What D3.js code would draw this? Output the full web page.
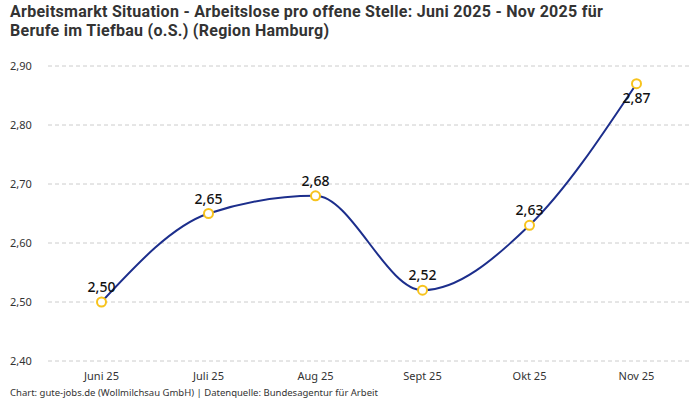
<!DOCTYPE html>
<html lang="de">
<head>
<meta charset="UTF-8">
<title>Arbeitsmarkt Situation</title>
<script src="https://cdnjs.cloudflare.com/ajax/libs/d3/7.8.5/d3.min.js"></script>
<style>
  body { margin: 0; background: #fff; }
  svg { display: block; font-family: "Noto Sans", "DejaVu Sans", sans-serif; }
</style>
</head>
<body>
<svg width="700" height="400"></svg>
<script>
    const months = ["Juni 25", "Juli 25", "Aug 25", "Sept 25", "Okt 25", "Nov 25"];
    const ratios = [2.50, 2.65, 2.68, 2.52, 2.63, 2.87];
    const yTicks = [2.40, 2.50, 2.60, 2.70, 2.80, 2.90];
    const titleLines = [
        "Arbeitsmarkt Situation - Arbeitslose pro offene Stelle: Juni 2025 - Nov 2025 für",
        "Berufe im Tiefbau (o.S.) (Region Hamburg)"
    ];
    const footer = "Chart: gute-jobs.de (Wollmilchsau GmbH) | Datenquelle: Bundesagentur für Arbeit";

    const svg = d3.select("svg");
    const fmt = v => d3.format(".2f")(v).replace(".", ",");

    const x = d3.scaleBand().domain(months).range([48, 690]);
    const y = d3.scaleLinear().domain([2.40, 2.90]).range([361, 66]);

    // title
    svg.append("g").selectAll("text")
        .data(titleLines)
        .enter().append("text")
        .attr("x", 10)
        .attr("y", (d, i) => 17 + i * 19)
        .attr("font-family", "Roboto, sans-serif")
        .attr("font-size", 16)
        .attr("font-weight", 700)
        .attr("letter-spacing", 0.28)
        .attr("fill", "#333")
        .text(d => d);

    // grid + y labels
    const grid = svg.append("g");
    grid.selectAll("line")
        .data(yTicks)
        .enter().append("line")
        .attr("x1", 48).attr("x2", 690)
        .attr("y1", d => y(d)).attr("y2", d => y(d))
        .attr("stroke", "#ccc")
        .attr("stroke-dasharray", "4,3");
    grid.selectAll("text")
        .data(yTicks)
        .enter().append("text")
        .attr("x", 10)
        .attr("y", d => y(d) + 4)
        .attr("font-size", 11)
        .attr("fill", "#333")
        .text(fmt);

    // x labels
    svg.append("g").selectAll("text")
        .data(months)
        .enter().append("text")
        .attr("x", d => x(d) + x.bandwidth() / 2)
        .attr("y", 380)
        .attr("text-anchor", "middle")
        .attr("font-size", 11)
        .attr("fill", "#333")
        .text(d => d);

    const cx = (d, i) => x(months[i]) + x.bandwidth() / 2;

    const line = d3.line()
        .x(cx)
        .y(d => y(d))
        .curve(d3.curveMonotoneX);

    svg.append("path")
        .datum(ratios)
        .attr("d", line)
        .attr("fill", "none")
        .attr("stroke", "#1c2e8c")
        .attr("stroke-width", 2);

    svg.append("g").selectAll("circle")
        .data(ratios)
        .enter().append("circle")
        .attr("cx", cx)
        .attr("cy", d => y(d))
        .attr("r", 4.5)
        .attr("fill", "#fff")
        .attr("stroke", "#f7c31d")
        .attr("stroke-width", 2);

    svg.append("g").selectAll("text")
        .data(ratios)
        .enter().append("text")
        .attr("x", cx)
        .attr("y", (d, i) => i === ratios.length - 1 ? y(d) + 19 : y(d) - 10)
        .attr("text-anchor", "middle")
        .attr("font-size", 14)
        .attr("font-weight", 500)
        .attr("fill", "#111")
        .text(fmt);

    svg.append("text")
        .attr("x", 10)
        .attr("y", 396)
        .attr("font-size", 9.5)
        .attr("fill", "#333")
        .text(footer);
</script>
</body>
</html>
